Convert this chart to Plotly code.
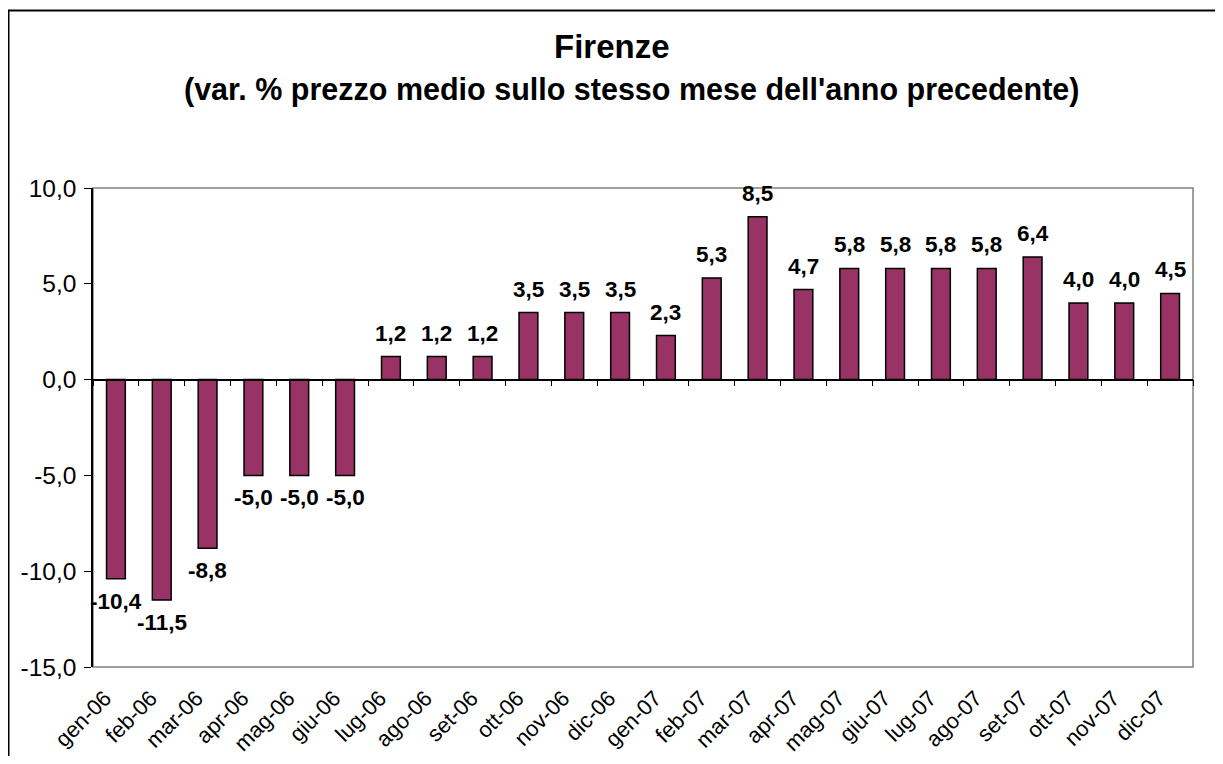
import plotly.graph_objects as go

categories = ["gen-06", "feb-06", "mar-06", "apr-06", "mag-06", "giu-06", "lug-06", "ago-06",
              "set-06", "ott-06", "nov-06", "dic-06", "gen-07", "feb-07", "mar-07", "apr-07",
              "mag-07", "giu-07", "lug-07", "ago-07", "set-07", "ott-07", "nov-07", "dic-07"]
values = [-10.4, -11.5, -8.8, -5.0, -5.0, -5.0, 1.2, 1.2, 1.2, 3.5, 3.5, 3.5,
          2.3, 5.3, 8.5, 4.7, 5.8, 5.8, 5.8, 5.8, 6.4, 4.0, 4.0, 4.5]
y_ticks = [-15, -10, -5, 0, 5, 10]
title_main = "Firenze"
title_sub = "(var. % prezzo medio sullo stesso mese dell'anno precedente)"

FONT = "Liberation Sans, Arial, sans-serif"
# page body has an 8px margin: figure is placed at (8, 8) in the window
W, H = 1207, 748
L, R, T, B = 85, 22, 180, 89
pw, ph = W - L - R, H - T - B


def fmt(v):
    return f"{v:.1f}".replace(".", ",")


def py(fy):
    """figure pixel y -> paper y"""
    return (H - B - fy) / ph


def px(fx):
    return (fx - L) / pw


fig = go.Figure()
fig.add_trace(go.Bar(
    x=categories, y=values, width=0.41,
    marker=dict(color="#993366", line=dict(color="black", width=1.5)),
    hoverinfo="skip", showlegend=False,
))
# invisible trace carrying the zero-line category axis (tick marks)
fig.add_trace(go.Scatter(x=categories, y=[0] * len(categories), xaxis="x2", mode="markers",
                         marker=dict(opacity=0), hoverinfo="skip", showlegend=False))

for c, v in zip(categories, values):
    fig.add_annotation(x=c, y=v, text=f"<b>{fmt(v)}</b>", showarrow=False,
                       yanchor="bottom" if v >= 0 else "top",
                       yshift=9 if v >= 0 else -8,
                       font=dict(family=FONT, size=22.5, color="black"))

fig.add_annotation(xref="paper", yref="paper", x=px(604), y=py(39),
                   text=f"<b>{title_main}</b>", showarrow=False,
                   xanchor="center", yanchor="middle",
                   font=dict(family=FONT, size=33, color="black"))
fig.add_annotation(xref="paper", yref="paper", x=px(623), y=py(81),
                   text=f"<b>{title_sub}</b>", showarrow=False,
                   xanchor="center", yanchor="middle",
                   font=dict(family=FONT, size=30.5, color="black"))

n = len(categories)
fig.update_layout(
    width=W, height=H,
    margin=dict(l=L, r=R, t=T, b=B, autoexpand=False),
    paper_bgcolor="white", plot_bgcolor="white",
    xaxis=dict(type="category", categoryorder="array", categoryarray=categories,
               range=[-0.5, n - 0.5], showline=False, ticks="", tickangle=-45,
               tickfont=dict(family=FONT, size=22, color="black"), showgrid=False,
               zeroline=False, automargin=False, ticklabelstandoff=13,
               ticklabelshift=-11),
    xaxis2=dict(type="category", categoryorder="array", categoryarray=categories,
                range=[-0.5, n - 0.5], overlaying="x", anchor="free", position=0.6,
                side="bottom", showline=True, linecolor="black", linewidth=1.5,
                ticks="outside", tickson="boundaries", ticklen=6, tickcolor="black",
                tickwidth=1.3, showticklabels=False, showgrid=False, zeroline=False,
                automargin=False),
    yaxis=dict(range=[-15, 10], tickvals=y_ticks, ticktext=[fmt(t) for t in y_ticks],
               showline=True, linecolor="black", linewidth=1.5, ticks="outside", ticklen=7,
               tickcolor="black", tickwidth=1.3, showgrid=False, zeroline=False,
               tickfont=dict(family=FONT, size=24.5, color="black"), automargin=False,
               ticklabelstandoff=3),
    shapes=[
        dict(type="rect", xref="paper", yref="paper", x0=0, x1=1, y0=0, y1=1,
             line=dict(color="#808080", width=1.5), layer="below"),
        dict(type="rect", xref="paper", yref="paper",
             x0=px(0.5), x1=px(W + 20), y0=py(H + 20), y1=py(2.5),
             line=dict(color="black", width=2), layer="below"),
    ],
)

fig.write_html("out.html")
